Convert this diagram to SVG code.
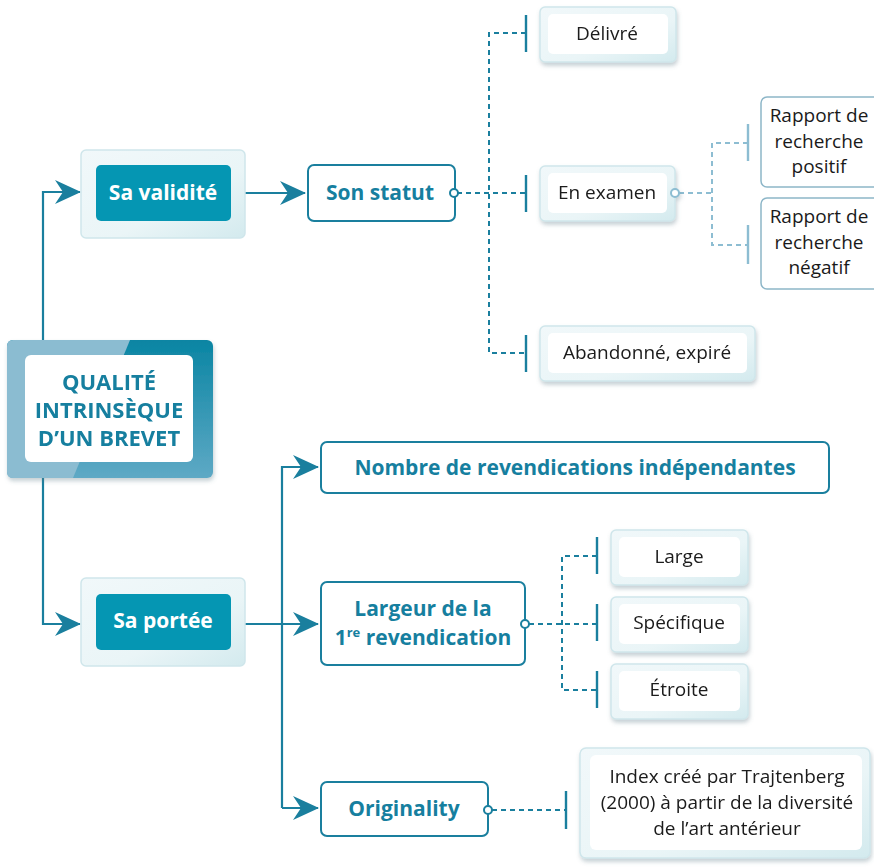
<svg xmlns="http://www.w3.org/2000/svg" width="874" height="868" viewBox="0 0 874 868">
<style>
.bt{font-family:"Open Sans","Noto Sans",sans-serif;font-weight:700;font-size:21px;fill:#167f9f;text-anchor:middle}
.tt{font-family:"Open Sans","Noto Sans",sans-serif;font-weight:700;font-size:22px;fill:#167f9f;text-anchor:middle}
.wt{font-family:"Open Sans","Noto Sans",sans-serif;font-weight:700;font-size:21px;fill:#ffffff;text-anchor:middle}
.rt{font-family:"Open Sans","Noto Sans",sans-serif;font-size:19px;fill:#1a1a1a;text-anchor:middle}
.ln{fill:none;stroke:#1a7f9e;stroke-width:2.2}
.dl{fill:none;stroke:#1a7f9e;stroke-width:2;stroke-dasharray:5 4}
.dl2{fill:none;stroke:#8dbdd2;stroke-width:2;stroke-dasharray:5 4}
.bar{stroke:#1a7f9e;stroke-width:2.4}
.bar2{stroke:#8dbdd2;stroke-width:2.4}
.wbox{fill:#ffffff;stroke:#1a7f9e;stroke-width:2}
.lbox{fill:#ffffff;stroke:#8db6c8;stroke-width:1.5}
.outer{fill:url(#og);stroke:#cfe6eb;stroke-width:1.5}
.inner{fill:#ffffff}
.teal{fill:#0596b3}
.circ{fill:#ffffff;stroke:#1a7f9e;stroke-width:2}
.circ2{fill:#ffffff;stroke:#8dbdd2;stroke-width:2}
</style>
<defs>
<linearGradient id="og" x1="0" y1="0" x2="1" y2="1">
<stop offset="0" stop-color="#f1f8fa"/>
<stop offset="0.6" stop-color="#eaf5f7"/>
<stop offset="1" stop-color="#d3eaee"/>
</linearGradient>
<linearGradient id="mg" x1="0" y1="0" x2="0" y2="1">
<stop offset="0" stop-color="#0a85a3"/>
<stop offset="1" stop-color="#5ea9c5"/>
</linearGradient>
<filter id="sh" x="-10%" y="-10%" width="130%" height="140%">
<feDropShadow dx="1" dy="3" stdDeviation="2" flood-color="#5a7a85" flood-opacity="0.35"/>
</filter>
<marker id="ar" viewBox="0 0 26 24" markerWidth="26" markerHeight="24" refX="25" refY="12" orient="auto" markerUnits="userSpaceOnUse">
<path d="M0,0 L26,12 L0,24 L8,12 z" fill="#1a7f9e"/>
</marker>
</defs>

<g id="connectors">
<path class="ln" d="M43,340 V192 H80" marker-end="url(#ar)"/>
<path class="ln" d="M43,478 V624 H80" marker-end="url(#ar)"/>
<path class="ln" d="M231,193 H305" marker-end="url(#ar)"/>
<path class="ln" d="M245,624 H318" marker-end="url(#ar)"/>
<path class="ln" d="M282,808 V467 H318" marker-end="url(#ar)"/>
<path class="ln" d="M282,808 H318" marker-end="url(#ar)"/>
<path class="dl" d="M457,193 H526"/>
<path class="dl" d="M526,33 H489 V353 H526"/>
<line class="bar" x1="526" y1="15" x2="526" y2="52"/>
<line class="bar" x1="526" y1="175" x2="526" y2="212"/>
<line class="bar" x1="526" y1="335" x2="526" y2="372"/>
<path class="dl2" d="M679,193 H712"/>
<path class="dl2" d="M748,143 H712 V245 H748"/>
<line class="bar2" x1="748" y1="124" x2="748" y2="161"/>
<line class="bar2" x1="748" y1="225" x2="748" y2="264"/>
<path class="dl" d="M529,624 H597"/>
<path class="dl" d="M597,556 H562 V690 H597"/>
<line class="bar" x1="597" y1="537" x2="597" y2="574"/>
<line class="bar" x1="597" y1="604" x2="597" y2="641"/>
<line class="bar" x1="597" y1="671" x2="597" y2="708"/>
<path class="dl" d="M492,810 H566"/>
<line class="bar" x1="566" y1="791" x2="566" y2="829"/>
</g>

<g id="main" filter="url(#sh)">
<rect x="7" y="340" width="206" height="138" rx="6" fill="url(#mg)"/>
<path d="M13,340 H130 L73,478 H13 Q7,478 7,472 V346 Q7,340 13,340 z" fill="#8bbcd1"/>
<rect x="25" y="355" width="168" height="107" rx="6" fill="#ffffff"/>
<text class="tt" x="109" y="390">QUALITÉ</text>
<text class="tt" x="109" y="418">INTRINSÈQUE</text>
<text class="tt" x="109" y="446">D’UN BREVET</text>
</g>

<g id="sa-validite">
<rect class="outer" x="81" y="150" width="164" height="88" rx="5"/>
<rect class="teal" x="96" y="165" width="135" height="56" rx="5"/>
<text class="wt" x="163" y="200">Sa validité</text>
</g>

<g id="son-statut">
<rect class="wbox" x="308" y="165" width="147" height="56" rx="6"/>
<text class="bt" x="380" y="200">Son statut</text>
<circle class="circ" cx="454" cy="193" r="4"/>
</g>

<g id="delivre" filter="url(#sh)">
<rect class="outer" x="540" y="7" width="136" height="55" rx="5"/>
<rect class="inner" x="548" y="14" width="120" height="40" rx="5"/>
<text class="rt" x="607" y="40">Délivré</text>
</g>

<g id="en-examen" filter="url(#sh)">
<rect class="outer" x="540" y="166" width="135" height="55" rx="5"/>
<rect class="inner" x="548" y="173" width="119" height="40" rx="5"/>
<text class="rt" x="607" y="199">En examen</text>
<circle class="circ2" cx="675" cy="193" r="4"/>
</g>

<g id="abandonne" filter="url(#sh)">
<rect class="outer" x="540" y="326" width="215" height="55" rx="5"/>
<rect class="inner" x="548" y="333" width="199" height="40" rx="5"/>
<text class="rt" x="647" y="359">Abandonné, expiré</text>
</g>

<g id="rapport-positif">
<rect class="lbox" x="761" y="97" width="120" height="90" rx="6"/>
<text class="rt" x="819" y="122">Rapport de</text>
<text class="rt" x="819" y="148">recherche</text>
<text class="rt" x="819" y="173">positif</text>
</g>

<g id="rapport-negatif">
<rect class="lbox" x="761" y="198" width="120" height="91" rx="6"/>
<text class="rt" x="819" y="223">Rapport de</text>
<text class="rt" x="819" y="249">recherche</text>
<text class="rt" x="819" y="274">négatif</text>
</g>

<g id="sa-portee">
<rect class="outer" x="81" y="578" width="164" height="88" rx="5"/>
<rect class="teal" x="96" y="594" width="135" height="56" rx="5"/>
<text class="wt" x="163" y="628">Sa portée</text>
</g>

<g id="nombre">
<rect class="wbox" x="321" y="442" width="508" height="51" rx="6"/>
<text class="bt" x="575" y="475">Nombre de revendications indépendantes</text>
</g>

<g id="largeur">
<rect class="wbox" x="321" y="582" width="204" height="83" rx="6"/>
<text class="bt" x="423" y="616">Largeur de la</text>
<text class="bt" x="423" y="645">1<tspan font-size="13" dy="-8">re</tspan><tspan dy="8"> revendication</tspan></text>
<circle class="circ" cx="525" cy="624" r="4"/>
</g>

<g id="large" filter="url(#sh)">
<rect class="outer" x="611" y="530" width="137" height="55" rx="5"/>
<rect class="inner" x="619" y="537" width="121" height="40" rx="5"/>
<text class="rt" x="679" y="563">Large</text>
</g>

<g id="specifique" filter="url(#sh)">
<rect class="outer" x="611" y="597" width="137" height="55" rx="5"/>
<rect class="inner" x="619" y="604" width="121" height="40" rx="5"/>
<text class="rt" x="679" y="629">Spécifique</text>
</g>

<g id="etroite" filter="url(#sh)">
<rect class="outer" x="611" y="664" width="137" height="55" rx="5"/>
<rect class="inner" x="619" y="671" width="121" height="40" rx="5"/>
<text class="rt" x="679" y="696">Étroite</text>
</g>

<g id="originality">
<rect class="wbox" x="321" y="782" width="167" height="54" rx="6"/>
<text class="bt" x="404" y="816">Originality</text>
<circle class="circ" cx="488" cy="810" r="4"/>
</g>

<g id="index" filter="url(#sh)">
<rect class="outer" x="580" y="748" width="290" height="110" rx="6"/>
<rect class="inner" x="590" y="755" width="272" height="95" rx="6"/>
<text class="rt" x="727" y="783">Index créé par Trajtenberg</text>
<text class="rt" x="727" y="809">(2000) à partir de la diversité</text>
<text class="rt" x="727" y="835">de l’art antérieur</text>
</g>
</svg>
